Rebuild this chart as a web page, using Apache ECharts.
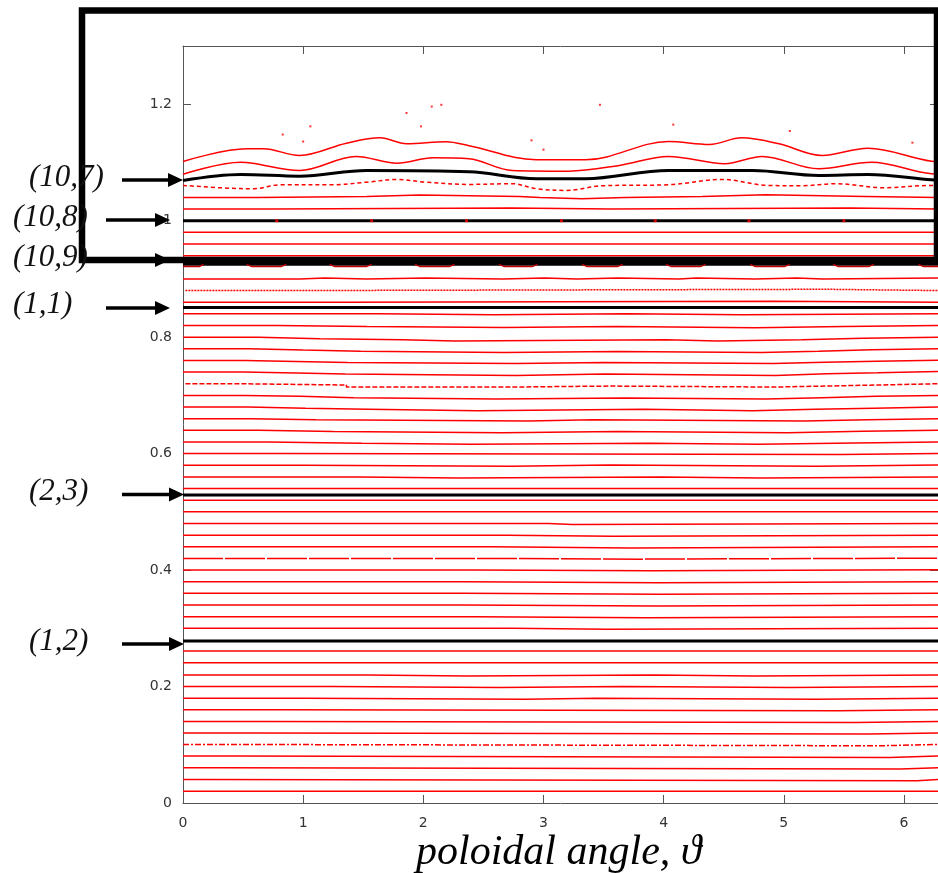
<!DOCTYPE html>
<html>
<head>
<meta charset="utf-8">
<script src="https://cdn.jsdelivr.net/npm/echarts@6/dist/echarts.min.js"></script>
<style>
html,body{margin:0;padding:0;background:#fff;}
#chart{width:938px;height:873px;}
</style>
</head>
<body>
<div id="chart"></div>
<script>
// ---------- data (theta, radius) ----------
const xTickValues = [0, 1, 2, 3, 4, 5, 6];
const yTickValues = [0, 0.2, 0.4, 0.6, 0.8, 1, 1.2];

// red flux-surface traces (step lines)
const r002 = [[0,0.020],[6.2832,0.020]];
const r004 = [[0,0.0405],[0.17,0.0383],[6.11,0.0405],[6.2832,0.0405]];
const r006 = [[0,0.0605],[0.32,0.0583],[5.97,0.0605],[6.2832,0.0605]];
const r008 = [[0,0.0805],[0.40,0.0783],[5.88,0.0805],[6.2832,0.0805]];
const r010 = [[0,0.1005],[0.48,0.0983],[5.80,0.1005],[6.2832,0.1005]];
const r012 = [[0,0.120],[0.58,0.1183],[5.70,0.120],[6.2832,0.120]];
const r014 = [[0,0.140],[0.69,0.1383],[5.59,0.140],[6.2832,0.140]];
const r016 = [[0,0.160],[0.83,0.1583],[5.45,0.160],[6.2832,0.160]];
const r018 = [[0,0.180],[1.01,0.1783],[2.85,0.180],[3.44,0.1783],[5.27,0.180],[6.2832,0.180]];
const r020 = [[0,0.200],[1.24,0.1983],[2.63,0.200],[3.66,0.1983],[5.05,0.200],[6.2832,0.200]];
const r022 = [[0,0.220],[1.53,0.2183],[2.37,0.220],[3.91,0.2183],[4.76,0.220],[6.2832,0.220]];
const r024 = [[0,0.241],[6.2832,0.241]];
const r026 = [[0,0.261],[6.2832,0.261]];
const r030 = [[0,0.300],[2.74,0.2983],[3.53,0.300],[6.2832,0.300]];
const r032 = [[0,0.320],[2.43,0.3183],[3.85,0.320],[6.2832,0.320]];
const r034 = [[0,0.340],[2.32,0.3383],[3.95,0.340],[6.2832,0.340]];
const r036 = [[0,0.360],[2.32,0.3583],[3.97,0.360],[6.2832,0.360]];
const r038 = [[0,0.380],[2.33,0.3783],[3.95,0.380],[6.2832,0.380]];
const r040 = [[0,0.400],[2.40,0.3988],[3.90,0.4005],[6.2832,0.4005]];
const r042 = [[0,0.420],[2.45,0.4188],[3.82,0.4205],[6.2832,0.4205]];
const r044 = [[0,0.440],[2.56,0.4378],[3.73,0.440],[6.2832,0.440]];
const r046 = [[0,0.460],[2.70,0.4583],[3.58,0.460],[6.2832,0.460]];
const r048 = [[0,0.480],[3.04,0.4783],[3.24,0.480],[6.2832,0.480]];
const r050 = [[0,0.500],[6.2832,0.500]];
const r052 = [[0,0.520],[6.2832,0.520]];
const r054 = [[0,0.540],[6.2832,0.540]];
const r056 = [[0,0.560],[1.47,0.5583],[2.30,0.560],[3.98,0.5583],[4.81,0.560],[6.2832,0.560]];
const r058 = [[0,0.580],[1.00,0.5783],[2.73,0.5805],[3.55,0.5783],[5.27,0.5805],[6.2832,0.5805]];
const r060 = [[0,0.600],[0.81,0.5983],[5.47,0.600],[6.2832,0.600]];
const r062 = [[0,0.620],[0.70,0.6178],[1.49,0.6160],[2.40,0.6178],[3.88,0.6160],[4.79,0.6183],[5.59,0.620],[6.2832,0.620]];
const r064 = [[0,0.640],[0.63,0.6378],[1.25,0.6360],[2.66,0.6378],[3.61,0.6360],[5.03,0.6383],[5.66,0.640],[6.2832,0.640]];
const r066 = [[0,0.660],[0.56,0.6583],[1.11,0.6560],[2.88,0.6583],[3.41,0.6560],[5.17,0.6583],[5.70,0.660],[6.2832,0.660]];
const r068 = [[0,0.680],[0.54,0.6778],[1.02,0.6760],[1.54,0.6736],[2.45,0.6760],[3.84,0.6736],[4.74,0.6760],[5.26,0.6778],[5.75,0.680],[6.2832,0.680]];
const r070 = [[0,0.700],[0.51,0.6983],[0.97,0.6960],[1.42,0.6936],[2.61,0.6954],[3.68,0.6936],[4.85,0.6960],[5.32,0.6983],[5.77,0.700],[6.2832,0.700]];
const r072 = [[0.02,0.720],[0.49,0.7178],[1.36,0.7143],[2.72,0.7160],[3.56,0.7143],[4.92,0.7160],[5.34,0.7178],[5.78,0.720],[6.2832,0.720]];
const r074 = [[0,0.740],[0.50,0.7383],[0.94,0.7366],[1.35,0.7343],[2.77,0.7366],[3.51,0.7343],[4.93,0.7371],[5.36,0.7388],[5.78,0.7412],[6.2832,0.7412]];
const r076 = [[0,0.760],[0.52,0.7583],[0.94,0.7566],[1.37,0.7548],[2.77,0.7566],[3.51,0.7548],[4.91,0.7571],[5.34,0.7588],[5.77,0.7605],[6.2832,0.7605]];
const r078 = [[0,0.780],[0.55,0.7778],[1.00,0.7760],[1.48,0.7736],[2.67,0.7754],[3.61,0.7736],[4.81,0.7760],[5.29,0.7783],[5.73,0.780],[6.2832,0.780]];
const r080 = [[0,0.800],[0.63,0.7971],[1.14,0.7954],[1.83,0.7936],[2.26,0.7954],[4.02,0.7936],[4.45,0.7954],[5.15,0.7983],[5.66,0.800],[6.2832,0.800]];
const r082 = [[0,0.820],[0.78,0.8183],[1.53,0.8166],[2.67,0.8183],[3.61,0.8160],[4.76,0.8183],[5.50,0.820],[6.2832,0.820]];
const r084 = [[0,0.840],[1.62,0.8383],[2.59,0.840],[3.70,0.8383],[4.65,0.840],[6.2832,0.840]];
const r086 = [[0,0.860],[1.36,0.8617],[4.92,0.860],[6.2832,0.860]];
const r088 = [[0.02,0.880],[0.92,0.8822],[5.36,0.880],[6.2832,0.880]];
const r090 = [[0,0.900],[0.97,0.9017],[1.18,0.900],[1.53,0.9017],[2.02,0.900],[2.66,0.9017],[3.01,0.900],[3.28,0.9017],[3.62,0.900],[4.13,0.9017],[4.27,0.900],[4.76,0.9017],[5.11,0.900],[5.32,0.9017],[6.2832,0.9017]];
const r094 = [[0,0.940],[6.2832,0.940]];
const r096 = [[0,0.960],[6.2832,0.960]];
const r098 = [[0,0.980],[6.2832,0.980]];
const r102 = [[0,1.020],[0.74,1.0217],[2.73,1.020],[3.56,1.0217],[5.55,1.020],[6.2832,1.020]];
const r104 = [[0,1.040],[0.61,1.0417],[1.53,1.0440],[1.97,1.0417],[2.80,1.040],[2.97,1.0378],[3.32,1.040],[3.68,1.0417],[4.32,1.0446],[4.85,1.0417],[5.68,1.040],[6.2832,1.040]];

// wavy outer traces (polylines)
const w106 = [[0,1.0606],[0.37,1.0559],[0.59,1.0549],[0.81,1.0617],[1.25,1.0617],[1.53,1.0662],[1.78,1.0708],[2.02,1.0662],[2.38,1.0623],[2.74,1.0635],[2.94,1.0549],[3.19,1.0520],[3.49,1.0600],[4.04,1.0617],[4.49,1.0708],[4.87,1.0605],[5.15,1.0600],[5.43,1.0635],[5.84,1.0566],[6.23,1.0606],[6.2832,1.0606]];
const w108 = [[0,1.0799],[0.48,1.1005],[0.58,1.0988],[0.97,1.0863],[1.44,1.1103],[1.78,1.0988],[2.08,1.1081],[2.38,1.1063],[2.74,1.0863],[3.21,1.0851],[3.63,1.0949],[4.04,1.1103],[4.51,1.0978],[4.82,1.1103],[5.29,1.0892],[5.73,1.1005],[6.23,1.0806],[6.2832,1.0803]];
const w110 = [[0,1.1017],[0.53,1.1235],[0.67,1.1235],[0.97,1.1120],[1.36,1.1331],[1.64,1.1424],[1.86,1.1321],[2.19,1.1355],[2.38,1.1288],[2.94,1.1046],[3.35,1.1046],[4.04,1.1360],[4.38,1.1309],[4.65,1.1424],[4.96,1.1321],[5.32,1.1120],[5.70,1.1245],[6.23,1.1022],[6.2832,1.1017]];

// resonant surfaces (black)
const s12 = [[0,0.2784],[6.2832,0.2784]];
const s23 = [[0,0.5288],[6.2832,0.5288]];
const s11 = [[0,0.8508],[6.2832,0.8508]];
const s109 = [[0,0.925],[6.2832,0.925]];
const s108 = [[0,1.0],[6.2832,1.0]];
const s107 = [[0,1.0691],[0.48,1.0794],[0.97,1.0765],[1.53,1.0863],[2.38,1.0840],[2.94,1.0720],[3.35,1.0720],[4.04,1.0863],[4.74,1.0863],[5.29,1.0777],[5.70,1.0794],[6.23,1.0703],[6.2832,1.0700]];

// (10,9) island chain lower edges
const islands109 = [
  [[0,0.9215],[0.14,0.9215],[0.17,0.925]],
  [[0.53,0.925],[0.57,0.9215],[0.82,0.9215],[0.86,0.925]],
  [[1.22,0.925],[1.26,0.9215],[1.53,0.9215],[1.57,0.925]],
  [[1.93,0.925],[1.97,0.9215],[2.22,0.9215],[2.26,0.925]],
  [[2.63,0.925],[2.67,0.9215],[2.91,0.9215],[2.95,0.925]],
  [[3.32,0.925],[3.36,0.9215],[3.62,0.9215],[3.66,0.925]],
  [[4.02,0.925],[4.06,0.9215],[4.31,0.9215],[4.35,0.925]],
  [[4.72,0.925],[4.76,0.9215],[5.01,0.9215],[5.05,0.925]],
  [[5.41,0.925],[5.45,0.9215],[5.71,0.9215],[5.75,0.925]],
  [[6.12,0.925],[6.16,0.9215],[6.2832,0.9215]]
];
// O-points on the (10,8) surface
const opoints108 = [[0.78,1.0],[1.57,1.0],[2.36,1.0],[3.15,1.0],[3.93,1.0],[4.71,1.0],[5.50,1.0]];
// stray chaotic points
const strayPoints = [[0.83,1.148],[1.06,1.162],[1.00,1.136],[1.86,1.185],[2.07,1.196],[2.15,1.199],[1.98,1.162],[3.47,1.199],[4.08,1.165],[5.05,1.154],[2.90,1.138],[3.00,1.122],[6.07,1.134]];

// annotation labels
const surfaceLabels = ['(10,7)','(10,8)','(10,9)','(1,1)','(2,3)','(1,2)'];
const xTitle = 'poloidal angle, \u03D1';

// ---------- build ----------
const solidRed = [r002,r004,r006,r008,r012,r014,r016,r018,r020,r022,r024,r026,r030,r032,r034,r036,r038,r040,r044,r046,r048,r050,r052,r054,r056,r058,r060,r062,r064,r066,r068,r070,r074,r076,r078,r080,r082,r084,r086,r090,r094,r096,r098,r102,r104];
const series = [];
function redLine(data, type, smooth){
  return {type:'line', data:data, step: smooth ? false : 'end', smooth: smooth || false, symbol:'none', silent:true, animation:false, z:2,
    lineStyle:{color:'#ff0000', width:1.5, type: type||'solid'}};
}
solidRed.forEach(d => series.push(redLine(d)));
series.push(redLine(r010, [6,2,2,2]));
series.push(redLine(r042, [40,2]));
series.push(redLine(r072, [5,2]));
series.push(redLine(r088, [2,1]));
series.push(redLine(w106, [4,3], 0.35));
series.push(redLine(w108, 'solid', 0.35));
series.push(redLine(w110, 'solid', 0.35));

function blackLine(data, smooth){
  return {type:'line', data:data, symbol:'none', smooth: smooth || false, silent:true, animation:false, z:3,
    lineStyle:{color:'#000', width:3}};
}
[s12, s23, s11, s109, s108].forEach(d => series.push(blackLine(d)));
series.push(blackLine(s107, 0.35));
islands109.forEach(d => series.push({type:'line', data:d, symbol:'none', silent:true, animation:false, z:4,
  lineStyle:{color:'#c00000', width:1.5}}));
series.push({type:'scatter', data:opoints108, symbol:'rect', symbolSize:3, silent:true, animation:false, z:5,
  itemStyle:{color:'#ff0000'}});
series.push({type:'scatter', data:strayPoints, symbol:'rect', symbolSize:2, silent:true, animation:false, z:5,
  itemStyle:{color:'#ff0000'}});

const axisCol = '#555';
const labelFont = {fontFamily:'DejaVu Sans', fontSize:14, color:'#333'};

// annotation graphics
const graphic = [];
graphic.push({type:'rect', z:100, silent:true, shape:{x:82, y:10.5, width:855, height:249.5},
  style:{fill:null, stroke:'#000', lineWidth:6.5}});
const arrows = [
  {x0:122, tip:183, y:180}, {x0:106, tip:170, y:220}, {x0:106, tip:170, y:260},
  {x0:106, tip:170, y:308}, {x0:122, tip:184, y:494.5}, {x0:122, tip:184, y:644}
];
arrows.forEach(a => {
  graphic.push({type:'line', z:101, silent:true, shape:{x1:a.x0, y1:a.y, x2:a.tip-12, y2:a.y},
    style:{stroke:'#000', lineWidth:3.5}});
  graphic.push({type:'polygon', z:101, silent:true, shape:{points:[[a.tip,a.y],[a.tip-15,a.y-7],[a.tip-15,a.y+7]]},
    style:{fill:'#000'}});
});
const labelPos = [[29,179],[13,219],[13,259],[13,306],[29,493],[29,643]];
surfaceLabels.forEach((t,i) => {
  graphic.push({type:'text', z:102, silent:true, left:labelPos[i][0], top:labelPos[i][1]-17,
    style:{text:t, font:'italic 31px "Liberation Serif"', fill:'#111'}});
});
graphic.push({type:'text', z:102, silent:true, left:416, top:832,
  style:{text:xTitle, font:'italic 42px "Liberation Serif"', lineHeight:36, fill:'#000'}});

const chart = echarts.init(document.getElementById('chart'), null, {renderer:'canvas'});
chart.setOption({
  animation:false,
  backgroundColor:'#fff',
  grid:{left:183, top:46, width:757, height:757, containLabel:false},
  xAxis:[
    {type:'value', min:0, max:6.2832, interval:1, position:'bottom',
      axisLine:{show:true, onZero:false, lineStyle:{color:axisCol, width:1}},
      axisTick:{show:true, inside:true, length:8, lineStyle:{color:axisCol}},
      axisLabel:Object.assign({margin:13, showMaxLabel:false,
        formatter: v => xTickValues.indexOf(v) >= 0 ? String(v) : ''}, labelFont),
      splitLine:{show:false}},
    {type:'value', min:0, max:6.2832, interval:1, position:'top',
      axisLine:{show:true, onZero:false, lineStyle:{color:axisCol, width:1}},
      axisTick:{show:true, inside:true, length:8, lineStyle:{color:axisCol}},
      axisLabel:{show:false}, splitLine:{show:false}}
  ],
  yAxis:[
    {type:'value', min:0, max:1.3, interval:0.2, position:'left',
      axisLine:{show:true, onZero:false, lineStyle:{color:axisCol, width:1}},
      axisTick:{show:true, inside:true, length:8, lineStyle:{color:axisCol}},
      axisLabel:Object.assign({margin:11, showMaxLabel:false,
        formatter: v => { const m = yTickValues.find(t => Math.abs(t - v) < 1e-6); return m === undefined ? '' : String(m); }}, labelFont),
      splitLine:{show:false}},
    {type:'value', min:0, max:1.3, interval:0.2, position:'right',
      axisLine:{show:true, onZero:false, lineStyle:{color:axisCol, width:1}},
      axisTick:{show:true, inside:true, length:8, lineStyle:{color:axisCol}},
      axisLabel:{show:false}, splitLine:{show:false}}
  ],
  series: series,
  graphic: graphic
});
</script>
</body>
</html>
